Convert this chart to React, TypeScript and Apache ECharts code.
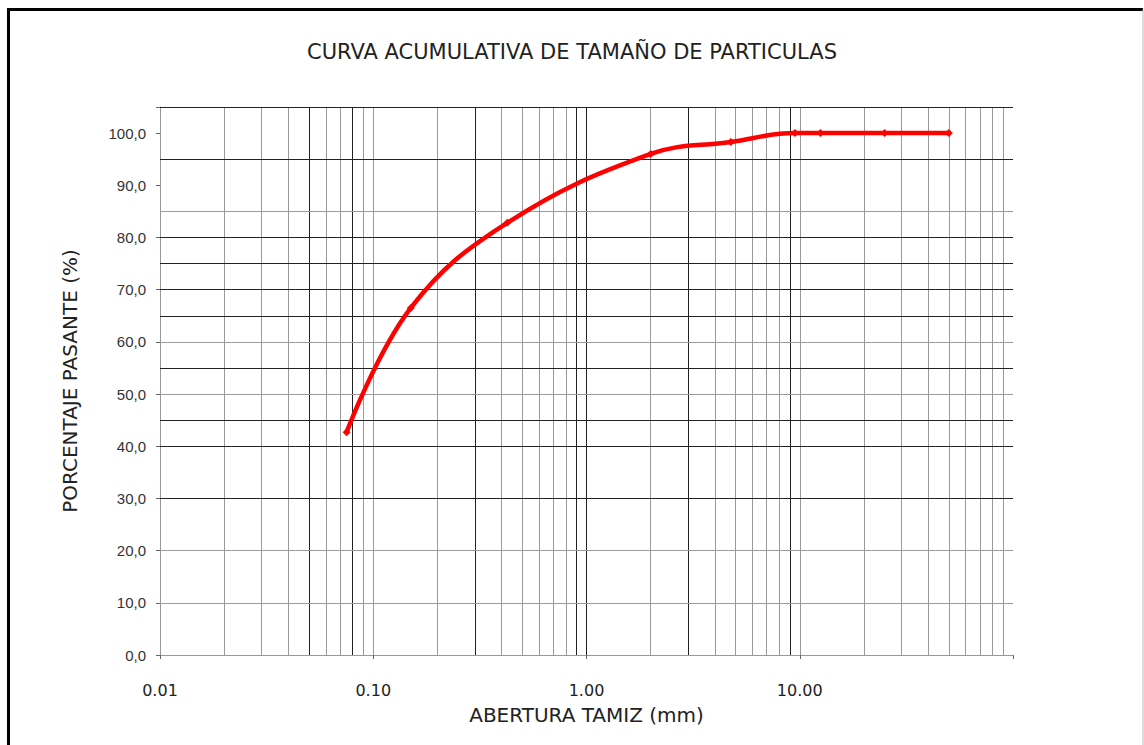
import React, { useEffect, useRef } from "react";
import * as echarts from "echarts";

// Sieve openings (mm) and cumulative percent passing
const sieveSizes = [0.075, 0.15, 0.425, 2.0, 4.75, 9.5, 12.5, 25, 50];
const percentPassing = [42.7, 66.5, 82.8, 96.0, 98.3, 100, 100, 100, 100];

// Grid lines drawn on the log paper
const verticalGrayLines = [0.02, 0.03, 0.04, 0.06, 0.07, 0.09, 0.1, 0.2, 0.4, 0.5, 0.6, 0.7, 0.8, 2, 4, 5, 6, 7, 8, 10, 20, 30, 40, 50, 60, 70, 80, 90];
const verticalDarkLines = [0.05, 0.08, 0.3, 0.9, 1, 3, 9];
const horizontalGrayLines = [10, 20, 50, 60, 85];
const horizontalDarkLines = [30, 40, 45, 55, 65, 70, 75, 80, 95, 105];

const title = "CURVA ACUMULATIVA DE TAMAÑO DE PARTICULAS";
const xName = "ABERTURA TAMIZ (mm)";
const yName = "PORCENTAJE PASANTE (%)";

export default function App() {
  const ref = useRef<HTMLDivElement>(null);
  useEffect(() => {
    if (!ref.current) return;
    const chart = echarts.init(ref.current, null, { renderer: "svg" });
    const gray = { color: "#9a9a9a", width: 1, type: "solid" };
    const dark = { color: "#222", width: 1, type: "solid" };
    const gridMarks = [
      ...verticalGrayLines.map((v) => ({ xAxis: v, lineStyle: gray })),
      ...verticalDarkLines.map((v) => ({ xAxis: v, lineStyle: dark })),
      ...horizontalGrayLines.map((v) => ({ yAxis: v, lineStyle: gray })),
      ...horizontalDarkLines.map((v) => ({ yAxis: v, lineStyle: dark })),
    ];
    chart.setOption({
      animation: false,
      backgroundColor: "#fff",
      title: {
        text: title,
        left: "center",
        top: 36,
        textStyle: { fontFamily: "DejaVu Sans", fontSize: 21, fontWeight: "normal", color: "#222" },
      },
      grid: { left: 160, right: 131, top: 107, bottom: 90 },
      xAxis: {
        type: "log",
        logBase: 10,
        min: 0.01,
        max: 100,
        name: xName,
        nameLocation: "middle",
        nameGap: 50,
        nameTextStyle: { fontFamily: "DejaVu Sans", fontSize: 20, color: "#222" },
        axisLine: { show: true, lineStyle: { color: "#999" } },
        axisTick: { show: true, length: 4, lineStyle: { color: "#666" } },
        splitLine: { show: false },
        axisLabel: {
          margin: 27,
          fontFamily: "DejaVu Sans",
          fontSize: 16,
          color: "#222",
          formatter: (v: number) => (v >= 100 ? "" : v.toFixed(2)),
        },
      },
      yAxis: {
        type: "value",
        min: 0,
        max: 105,
        interval: 10,
        name: yName,
        nameLocation: "middle",
        nameGap: 80,
        nameTextStyle: { fontFamily: "DejaVu Sans", fontSize: 20, color: "#222" },
        axisLine: { show: true, lineStyle: { color: "#999" } },
        axisTick: { show: true, length: 4, lineStyle: { color: "#666" } },
        splitLine: { show: false },
        axisLabel: {
          margin: 14,
          fontFamily: "Liberation Sans",
          fontSize: 15,
          color: "#333",
          formatter: (v: number) => (v > 100 ? "" : v.toFixed(1).replace(".", ",")),
        },
      },
      series: [
        {
          type: "line",
          data: [],
          silent: true,
          markLine: {
            silent: true,
            symbol: ["none", "none"],
            label: { show: false },
            data: gridMarks,
          },
        },
        {
          type: "line",
          data: sieveSizes.map((s, i) => [s, percentPassing[i]]),
          smooth: 0.4,
          symbol: "diamond",
          symbolSize: 8,
          lineStyle: { color: "#ff0000", width: 4.5 },
          itemStyle: { color: "#ff0000" },
          z: 5,
        },
      ],
      graphic: [
        {
          type: "polyline",
          shape: { points: [[8.5, 745], [8.5, 9.5], [1143, 9.5]] },
          style: { stroke: "#000", lineWidth: 3, fill: "none" },
        },
        {
          type: "line",
          shape: { x1: 1143, y1: 9, x2: 1143, y2: 745 },
          style: { stroke: "#bbb", lineWidth: 1 },
        },
      ],
    });
    return () => chart.dispose();
  }, []);
  return <div ref={ref} style={{ position: "fixed", left: 0, top: 0, width: 1144, height: 745 }} />;
}
